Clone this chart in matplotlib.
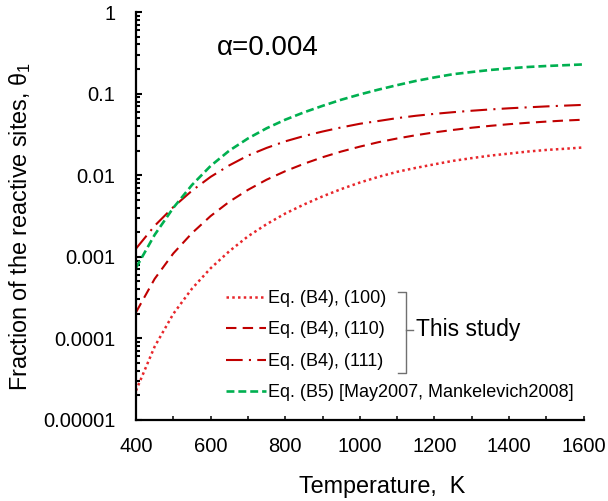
import matplotlib
matplotlib.use('Agg')
import matplotlib.pyplot as plt
from matplotlib.ticker import FixedLocator, LogLocator, NullFormatter

plt.rcParams['font.family'] = ['Liberation Sans', 'DejaVu Sans']
plt.rcParams['mathtext.fontset'] = 'custom'
plt.rcParams['mathtext.rm'] = 'Liberation Sans'
plt.rcParams['mathtext.it'] = 'Liberation Sans:italic'

# 温度 (K)
temperature = [400, 450, 500, 550, 600, 650, 700, 750, 800, 850, 900, 950, 1000,
               1050, 1100, 1150, 1200, 1250, 1300, 1350, 1400, 1450, 1500, 1550, 1600]

# Eq. (B4) 三个晶面
theta_100 = [2.29e-5, 7.94e-5, 2.00e-4, 4.07e-4, 7.24e-4, 1.17e-3, 1.78e-3, 2.51e-3,
             3.39e-3, 4.37e-3, 5.50e-3, 6.76e-3, 8.13e-3, 9.55e-3, 0.0110, 0.0123,
             0.0136, 0.0150, 0.0162, 0.0174, 0.0184, 0.0195, 0.0204, 0.0211, 0.0219]
theta_110 = [2.09e-4, 5.37e-4, 1.10e-3, 1.95e-3, 3.16e-3, 4.73e-3, 6.61e-3, 8.81e-3,
             0.0112, 0.0138, 0.0166, 0.0195, 0.0224, 0.0254, 0.0282, 0.0309,
             0.0335, 0.0359, 0.0382, 0.0403, 0.0422, 0.0439, 0.0454, 0.0468, 0.0479]
theta_111 = [1.26e-3, 2.40e-3, 4.07e-3, 6.46e-3, 9.55e-3, 0.0132, 0.0174, 0.0216,
             0.0260, 0.0302, 0.0343, 0.0385, 0.0427, 0.0462, 0.0501, 0.0535,
             0.0565, 0.0592, 0.0617, 0.0640, 0.0661, 0.0679, 0.0697, 0.0713, 0.0728]
# Eq. (B5)
theta_b5 = [7.33e-4, 1.86e-3, 3.98e-3, 7.59e-3, 0.0130, 0.0200, 0.0282, 0.0376,
            0.0479, 0.0589, 0.0708, 0.0841, 0.0977, 0.112, 0.127, 0.143,
            0.158, 0.173, 0.184, 0.195, 0.204, 0.212, 0.218, 0.223, 0.228]

labels = ['Eq. (B4), (100)', 'Eq. (B4), (110)', 'Eq. (B4), (111)',
          'Eq. (B5) [May2007, Mankelevich2008]']
x_ticks = [400, 600, 800, 1000, 1200, 1400, 1600]
y_ticks = [1e-5, 1e-4, 1e-3, 1e-2, 1e-1, 1]
y_ticklabels = ['0.00001', '0.0001', '0.001', '0.01', '0.1', '1']

fig = plt.figure(figsize=(6.08, 5.01), dpi=100)
ax = fig.add_axes([0.2237, 0.1617, 0.7363, 0.8143])

red = '#e8262b'
dark_red = '#c00000'
green = '#00b050'

ax.plot(temperature, theta_100, color=red, lw=1.8, dashes=(1.0, 1.3), label=labels[0])
ax.plot(temperature, theta_110, color=dark_red, lw=1.5, dashes=(5, 3), label=labels[1])
ax.plot(temperature, theta_111, color=dark_red, lw=1.5, dashes=(8, 3, 1, 3), label=labels[2])
ax.plot(temperature, theta_b5, color=green, lw=1.9, dashes=(3, 1.5), label=labels[3])

ax.set_yscale('log')
ax.set_xlim(400, 1600)
ax.set_ylim(1e-5, 1)
ax.set_xticks(x_ticks)
ax.xaxis.set_minor_locator(FixedLocator(range(500, 1600, 200)))
ax.set_yticks(y_ticks)
ax.set_yticklabels(y_ticklabels)
ax.yaxis.set_minor_locator(LogLocator(base=10, subs=range(2, 10)))
ax.yaxis.set_minor_formatter(NullFormatter())

for s in ['top', 'right']:
    ax.spines[s].set_visible(False)
for s in ['left', 'bottom']:
    ax.spines[s].set_linewidth(1.6)

ax.tick_params(axis='both', which='both', direction='in', labelsize=14.5)
ax.tick_params(axis='x', which='both', length=3.2, width=1.1, pad=12)
ax.tick_params(axis='y', which='major', length=4.5, width=1.5, pad=15)
ax.tick_params(axis='y', which='minor', length=3.0, width=1.5)

ax.set_xlabel('Temperature,  K', fontsize=16.8)
ax.xaxis.set_label_coords(0.55, -0.135)
ax.set_ylabel(r'Fraction of the reactive sites, $\mathregular{\theta_1}$', fontsize=16.8)
ax.yaxis.set_label_coords(-0.230, 0.475)

ax.text(0.181, 0.895, 'α=0.004', transform=ax.transAxes, fontsize=20)

leg = ax.legend(loc='upper left', bbox_to_anchor=(0.201, 0.3186), frameon=False,
                fontsize=13, handlelength=2.2, handletextpad=0.15, labelspacing=0.8,
                borderpad=0, borderaxespad=0)

# 括号 "This study"
bx = (406 - 136) / 447.6
hook = 8 / 447.6
by_top = (420 - 292) / 408
by_bot = (420 - 373) / 408
by_mid = (420 - 330) / 408
ax.plot([bx - hook, bx, bx, bx - hook], [by_top, by_top, by_bot, by_bot],
        color='#707070', lw=1.0, transform=ax.transAxes, clip_on=False)
ax.plot([bx, bx + 7 / 447.6], [by_mid, by_mid], color='#707070', lw=1.0,
        transform=ax.transAxes, clip_on=False)
ax.text(bx + 10 / 447.6, by_mid, 'This study', transform=ax.transAxes, fontsize=16.5,
        va='center', ha='left')

fig.savefig('out.png', dpi=100)
